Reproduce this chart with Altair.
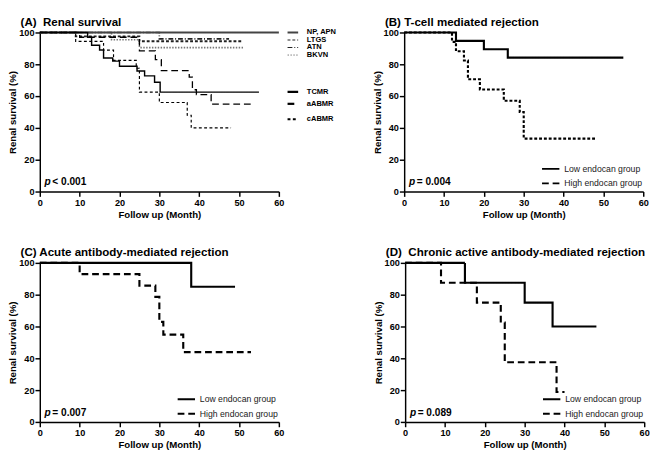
import altair as alt
import pandas as pd

FONT = "Liberation Sans"

# ---------------- data ----------------
# Panel A: renal survival by diagnosis
A_names = ["NP, APN", "LTGS", "ATN", "BKVN", "TCMR", "aABMR", "cABMR"]
A_np_t = [0, 60]
A_np_s = [100, 100]
A_ltgs_t = [0, 9, 25, 51]
A_ltgs_s = [100, 97.5, 94.5, 94.5]
A_atn_t = [0, 30, 47.5]
A_atn_s = [100, 96, 96]
A_bkvn_t = [0, 18, 25, 51]
A_bkvn_s = [100, 95.5, 90.5, 90.5]
A_tcmr_t = [0, 12, 13, 15, 16, 18.3, 20, 24.4, 26.3, 28.8, 30.2, 55]
A_tcmr_s = [100, 97, 92, 89, 84, 82, 78.8, 75.8, 72.7, 68.7, 62.5, 62.5]
A_aabmr_t = [0, 10, 25, 29, 30.5, 37.5, 38.3, 39.3, 43, 53]
A_aabmr_s = [100, 97, 88.5, 83, 76, 72, 64, 61, 55, 55]
A_cabmr_t = [0, 9, 16, 18.5, 24.2, 25, 30, 37, 38, 48]
A_cabmr_s = [100, 94.4, 88.9, 82.5, 77.5, 62.5, 56, 48, 40, 40]
A_p = "< 0.001"

# Panel B: T-cell mediated rejection
B_low_t = [0, 13, 20, 26, 55]
B_low_s = [100, 94.7, 89.5, 84.2, 84.2]
B_high_t = [0, 12, 13, 15, 16, 19, 25, 29, 30, 48]
B_high_s = [100, 94.1, 88.2, 82.4, 70.6, 64.2, 57.1, 50, 33.3, 33.3]
B_p = "= 0.004"

# Panel C: Acute antibody-mediated rejection
C_low_t = [0, 38, 49]
C_low_s = [100, 85, 85]
C_high_t = [0, 10, 25, 29, 30, 31, 36, 53]
C_high_s = [100, 92.9, 85.7, 78.6, 62.9, 54.9, 43.9, 43.9]
C_p = "= 0.007"

# Panel D: Chronic active antibody-mediated rejection
D_low_t = [0, 15, 30, 37, 48]
D_low_s = [100, 87.5, 75, 60, 60]
D_high_t = [0, 9, 18, 24, 25, 38, 40]
D_high_s = [100, 87.5, 75, 62.5, 37.5, 18.8, 18.8]
D_p = "= 0.089"

GROUPS = ["Low endocan group", "High endocan group"]
X_TICKS = [0, 10, 20, 30, 40, 50, 60]
Y_TICKS = [0, 20, 40, 60, 80, 100]

W, H = 248, 165
ONE = pd.DataFrame({"k": [0]})
XSCALE = alt.Scale(domain=[0, 60], nice=False, zero=True)
YSCALE = alt.Scale(domain=[0, 100], nice=False)
XAXIS = alt.Axis(title="Follow up (Month)", values=X_TICKS, labelFlush=False, labelOverlap=False)
YAXIS = alt.Axis(title="Renal survival (%)", values=Y_TICKS, labelFlush=False, labelOverlap=False)


def to_df(series, key):
    rows = []
    for name, ts, ss in series:
        for i, (t, s) in enumerate(zip(ts, ss)):
            rows.append({key: name, "t": t, "s": s, "order": i})
    return pd.DataFrame(rows)


def xenc():
    return alt.X("t:Q", scale=XSCALE, axis=XAXIS)


def yenc():
    return alt.Y("s:Q", scale=YSCALE, axis=YAXIS)


def pval_layers(ptxt):
    enc = dict(x=alt.X(datum=1.2, type="quantitative", scale=XSCALE, axis=XAXIS),
               y=alt.Y(datum=4, type="quantitative", scale=YSCALE, axis=YAXIS))
    p1 = alt.Chart(ONE).mark_text(text="p", font=FONT, fontSize=10.5, fontWeight="bold",
                                  fontStyle="italic", align="left", baseline="alphabetic",
                                  color="black").encode(**enc)
    p2 = alt.Chart(ONE).mark_text(text=ptxt, font=FONT, fontSize=10.5, fontWeight="bold",
                                  align="left", baseline="alphabetic", dx=8,
                                  color="black").encode(**enc)
    return [p1, p2]


def title(txt):
    return alt.Title(txt, anchor="start", frame="group", dx=-20, fontSize=12, font=FONT,
                     fontWeight="bold", color="black", offset=-1)


def legend_item(label, yy, dash, width, color, x0, x1, xt, size, weight, tcolor):
    rule = alt.Chart(ONE).mark_rule(strokeDash=dash, strokeWidth=width, color=color).encode(
        x=alt.value(x0), x2=alt.value(x1), y=alt.value(yy))
    txt = alt.Chart(ONE).mark_text(text=label, font=FONT, fontSize=size, fontWeight=weight,
                                   align="left", baseline="middle", color=tcolor).encode(
        x=alt.value(xt), y=alt.value(yy))
    return [rule, txt]


# ---------------- panel A ----------------
dfA = to_df([
    ("LTGS", A_ltgs_t, A_ltgs_s), ("ATN", A_atn_t, A_atn_s), ("BKVN", A_bkvn_t, A_bkvn_s),
    ("NP, APN", A_np_t, A_np_s), ("TCMR", A_tcmr_t, A_tcmr_s),
    ("aABMR", A_aabmr_t, A_aabmr_s), ("cABMR", A_cabmr_t, A_cabmr_s),
], "diag")
A_dash = [[1, 0], [3, 2], [5, 2, 1, 2], [1.5, 1.5], [1, 0], [7, 4], [3, 2.5]]
A_width = [2, 1.2, 1.2, 1, 2.3, 2.3, 2.3]
A_color = ["#444444", "#222222", "#222222", "#777777", "black", "black", "black"]

linesA = alt.Chart(dfA).mark_line(interpolate="step-after").encode(
    x=xenc(), y=yenc(), detail="diag:N", order="order:Q",
    strokeDash=alt.StrokeDash("diag:N", scale=alt.Scale(domain=A_names, range=A_dash), legend=None),
    strokeWidth=alt.StrokeWidth("diag:N", scale=alt.Scale(domain=A_names, range=A_width), legend=None),
    color=alt.Color("diag:N", scale=alt.Scale(domain=A_names, range=A_color), legend=None),
)

leg_y = [0, 7.8, 15.6, 23.4, 61.5, 74, 90]
legA = []
for name, yy, dsh, wd, col in zip(A_names, leg_y, A_dash, A_width, A_color):
    legA += legend_item(name, yy, dsh, wd, col, 257, 268, 277, 7.8, "bold", "black")

panelA = alt.layer(linesA, *legA, *pval_layers(A_p)).properties(
    width=W, height=H, title=title("(A)\u00a0 Renal survival"))


# ---------------- panels B, C, D ----------------
G_dash = [[1, 0], [7, 4]]


def two_group_panel(ttl, low_t, low_s, high_t, high_s, ptxt):
    df = to_df([(GROUPS[0], low_t, low_s), (GROUPS[1], high_t, high_s)], "group")
    lines = alt.Chart(df).mark_line(interpolate="step-after", color="black", strokeWidth=2.2).encode(
        x=xenc(), y=yenc(), detail="group:N", order="order:Q",
        strokeDash=alt.StrokeDash("group:N", scale=alt.Scale(domain=GROUPS, range=G_dash),
                                  legend=None),
    )
    leg = []
    for name, yy, dsh in zip(GROUPS, [141.5, 156.5], G_dash):
        leg += legend_item(name, yy, dsh, 2, "black", 143, 161, 166, 9, "normal", "#222222")
    return alt.layer(lines, *leg, *pval_layers(ptxt)).properties(width=W, height=H, title=title(ttl))


panelB = two_group_panel("(B) T-cell mediated rejection", B_low_t, B_low_s, B_high_t, B_high_s, B_p)
panelC = two_group_panel("(C) Acute antibody-mediated rejection", C_low_t, C_low_s, C_high_t, C_high_s, C_p)
panelD = two_group_panel("(D)\u00a0 Chronic active antibody-mediated rejection",
                         D_low_t, D_low_s, D_high_t, D_high_s, D_p)

row1 = alt.hconcat(panelA, panelB, spacing=37)
row2 = alt.hconcat(panelC, panelD, spacing=92)
chart = alt.vconcat(row1, row2, spacing=28).resolve_scale(strokeDash="independent").properties(
    padding=0, background="white"
).configure_view(stroke=None).configure_axis(
    domainColor="black", domainWidth=1.5, tickColor="black", tickWidth=1.5, tickSize=5,
    labelFont=FONT, labelFontSize=9.5, labelFontWeight="bold", labelColor="black", labelPadding=1,
    labelOverlap=False,
    titleFont=FONT, titleFontSize=10, titleFontWeight="bold", titleColor="black", grid=False,
).configure_axisY(titlePadding=1).configure_axisX(titlePadding=3)

chart.save("out.html", embed_options={"renderer": "svg", "actions": False})
